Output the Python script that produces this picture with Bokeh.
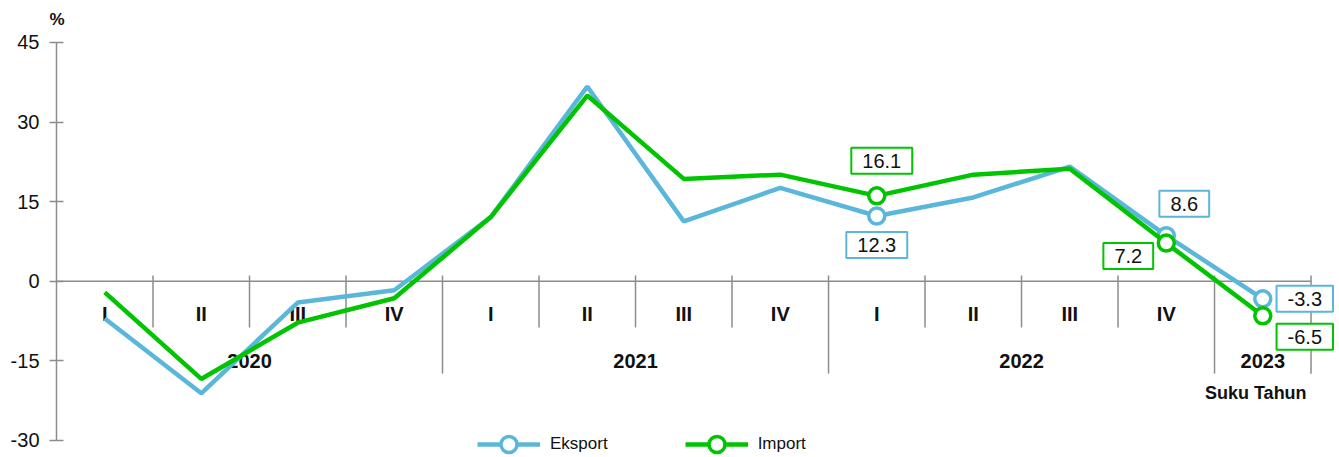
from bokeh.plotting import figure
from bokeh.models import Range1d, FixedTicker, Label, Legend, LegendItem, LinearAxis
from bokeh.core.properties import value
from bokeh.embed import file_html
from bokeh.resources import INLINE

# ---- data ----
quarters = ["I", "II", "III", "IV", "I", "II", "III", "IV", "I", "II", "III", "IV", "I"]
years = ["2020", "2021", "2022", "2023"]
quarters_per_year = [4, 4, 4, 1]
eksport = [-7.0, -21.1, -4.0, -1.7, 12.1, 36.7, 11.3, 17.6, 12.3, 15.8, 21.6, 8.6, -3.3]
impor = [-2.1, -18.4, -7.8, -3.2, 12.1, 35.0, 19.3, 20.1, 16.1, 20.1, 21.2, 7.2, -6.5]
marked = [8, 11, 12]
y_ticks = [-30, -15, 0, 15, 30, 45]
unit_label = "%"

# ---- styles ----
BLUE = "#5bb7d9"
GREEN = "#00c400"
GRAY = "#8c8c8c"
INK = "#111111"
FONT = "Liberation Sans"

n = len(quarters)
xs = [i + 0.5 for i in range(n)]

p = figure(width=1339, height=457,
           x_range=Range1d(0, 13.295), y_range=Range1d(-33.204, 46.884),
           output_backend="svg", toolbar_location=None, x_axis_location=None,
           min_border_left=56, min_border_right=0, min_border_top=32, min_border_bottom=0)
p.outline_line_color = None
p.grid.visible = False
p.background_fill_color = "white"
p.border_fill_color = "white"

ax = p.yaxis[0]
ax.ticker = FixedTicker(ticks=y_ticks)
ax.bounds = (y_ticks[0], y_ticks[-1])
ax.major_label_overrides = {t: str(t) for t in y_ticks}
ax.major_tick_in = 7
ax.major_tick_out = 7
ax.minor_tick_line_color = None
ax.axis_line_color = GRAY
ax.axis_line_width = 1.5
ax.major_tick_line_color = GRAY
ax.major_tick_line_width = 1.5
ax.major_label_text_font = FONT
ax.major_label_text_font_size = "20px"
ax.major_label_text_color = INK
ax.major_label_standoff = 10

# unit label as a one-tick axis above the frame, at the y-axis position
p.extra_x_ranges = {"unit": Range1d(-0.0005, 1)}
unit_axis = LinearAxis(x_range_name="unit", ticker=FixedTicker(ticks=[0]),
                       major_label_overrides={0: unit_label},
                       axis_line_color=None, major_tick_line_color=None, minor_tick_line_color=None,
                       major_tick_in=0, major_tick_out=0, major_label_standoff=4,
                       major_label_text_font=FONT, major_label_text_font_style="bold",
                       major_label_text_font_size="17px", major_label_text_color=INK)
p.add_layout(unit_axis, "above")

# zero line
p.segment(x0=[0], y0=[0], x1=[n], y1=[0], line_color=GRAY, line_width=1.5)

# separators
year_ends = []
c = 0
for k in quarters_per_year:
    c += k
    year_ends.append(c)
short_x = [b for b in range(1, n + 1) if b not in year_ends]
p.segment(x0=short_x, y0=[1.1] * len(short_x), x1=short_x, y1=[-8.7] * len(short_x),
          line_color=GRAY, line_width=1.5)
p.segment(x0=year_ends, y0=[1.1] * len(year_ends), x1=year_ends, y1=[-17.4] * len(year_ends),
          line_color=GRAY, line_width=1.5)

# category labels
p.text(x=xs, y=[-6.1] * n, text=quarters, text_align="center", text_baseline="middle",
       text_font=value(FONT), text_font_style="bold", text_font_size="20px", text_color=INK)
starts = [0] + year_ends[:-1]
year_x = [(a + b) / 2 for a, b in zip(starts, year_ends)]
p.text(x=year_x, y=[-15.0] * len(years), text=years, text_align="center", text_baseline="middle",
       text_font=value(FONT), text_font_style="bold", text_font_size="20px", text_color=INK)

# series
bl = p.line(xs, eksport, line_color=BLUE, line_width=4.5)
bm = p.scatter([xs[i] for i in marked], [eksport[i] for i in marked], size=16,
               fill_color="white", line_color=BLUE, line_width=3.5)
gl = p.line(xs, impor, line_color=GREEN, line_width=4.5)
gm = p.scatter([xs[i] for i in marked], [impor[i] for i in marked], size=16,
               fill_color="white", line_color=GREEN, line_width=3.5)

# value labels
offs_e = {8: (0, -29), 11: (18, 32), 12: (42, 0)}
offs_i = {8: (5, 35), 11: (-38, -13), 12: (42, -21)}
for series, color, offs in ((eksport, BLUE, offs_e), (impor, GREEN, offs_i)):
    for i in marked:
        dx, dy = offs[i]
        p.add_layout(Label(x=xs[i], y=series[i], x_offset=dx, y_offset=dy,
                           text=f"{series[i]:.1f}", text_align="center", text_baseline="middle",
                           text_font=FONT, text_font_size="20px", text_color=INK,
                           background_fill_color="white", border_line_color=color,
                           border_line_width=2, padding=dict(left=11, right=11, top=6, bottom=6)))

# category axis title
p.add_layout(Label(x=xs[-1], y=-21.0, x_offset=-7, text="Suku Tahun",
                   text_align="center", text_baseline="middle", text_font=FONT,
                   text_font_style="bold", text_font_size="18px", text_color=INK))

legend = Legend(items=[LegendItem(label="Eksport", renderers=[bl, bm]),
                       LegendItem(label="Import", renderers=[gl, gm])],
                orientation="horizontal", location=(421, -7), glyph_width=63, glyph_height=40,
                label_standoff=10, spacing=77, padding=0, margin=0,
                border_line_color=None, background_fill_alpha=0,
                label_text_font=FONT, label_text_font_size="17px", label_text_color=INK)
p.add_layout(legend)

open("out.html", "w").write(file_html(p, INLINE))
